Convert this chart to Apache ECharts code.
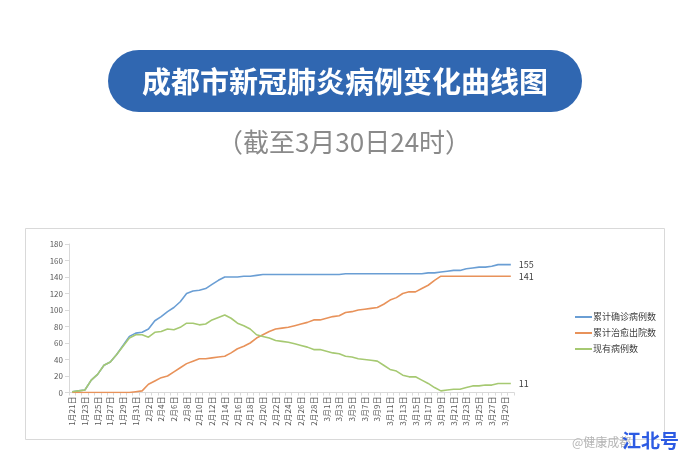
<!DOCTYPE html>
<html>
<head>
<meta charset="utf-8">
<title>成都市新冠肺炎病例变化曲线图</title>
<script src="https://cdn.jsdelivr.net/npm/echarts@6/dist/echarts.min.js"></script>
<style>
html, body { margin: 0; padding: 0; background: #fff; }
#main { width: 690px; height: 461px; }
</style>
</head>
<body>
<div id="main"></div>
<script>
// 日期（1月21日 - 3月30日）
const dates = [
	'1月21日', '1月22日', '1月23日', '1月24日', '1月25日', '1月26日', '1月27日', '1月28日', '1月29日', '1月30日', '1月31日',
	'2月1日', '2月2日', '2月3日', '2月4日', '2月5日', '2月6日', '2月7日', '2月8日', '2月9日', '2月10日',
	'2月11日', '2月12日', '2月13日', '2月14日', '2月15日', '2月16日', '2月17日', '2月18日', '2月19日', '2月20日',
	'2月21日', '2月22日', '2月23日', '2月24日', '2月25日', '2月26日', '2月27日', '2月28日', '2月29日',
	'3月1日', '3月2日', '3月3日', '3月4日', '3月5日', '3月6日', '3月7日', '3月8日', '3月9日', '3月10日',
	'3月11日', '3月12日', '3月13日', '3月14日', '3月15日', '3月16日', '3月17日', '3月18日', '3月19日', '3月20日',
	'3月21日', '3月22日', '3月23日', '3月24日', '3月25日', '3月26日', '3月27日', '3月28日', '3月29日', '3月30日',
]

// 累计确诊病例数
const confirmed = [
	1, 2, 3, 15, 22, 33, 37, 46, 57, 68, 72,
	73, 77, 87, 92, 98, 103, 110, 120, 123, 124, 126, 131, 136, 140, 140, 140, 141, 141, 142, 143, 143, 143, 143, 143, 143, 143, 143, 143, 143,
	143, 143, 143, 144, 144, 144, 144, 144, 144, 144, 144, 144, 144, 144, 144, 144, 145, 145, 146, 147, 148, 148, 150, 151, 152, 152, 153, 155, 155, 155,
]

// 累计治愈出院数
const cured = [
	0, 0, 0, 0, 0, 0, 0, 0, 0, 0, 1,
	2, 10, 14, 18, 20, 25, 30, 35, 38, 41, 41, 42, 43, 44, 48, 53, 56, 60, 66, 70, 74, 77, 78, 79, 81, 83, 85, 88, 88,
	90, 92, 93, 97, 98, 100, 101, 102, 103, 107, 112, 115, 120, 122, 122, 126, 130, 136, 141, 141, 141, 141, 141, 141, 141, 141, 141, 141, 141, 141,
]

// 现有病例数
const current = [
	1, 2, 3, 15, 22, 33, 37, 46, 56, 66, 70,
	70, 67, 73, 74, 77, 76, 79, 84, 84, 82, 83, 88, 91, 94, 90, 84, 81, 77, 70, 68, 66, 63, 62, 61, 59, 57, 55, 52, 52,
	50, 48, 47, 44, 43, 41, 40, 39, 38, 33, 28, 26, 21, 19, 19, 15, 11, 6, 2, 3, 4, 4, 6, 8, 8, 9, 9, 11, 11, 11,
]

const seriesNames = ['累计确诊病例数', '累计治愈出院数', '现有病例数']
const colors = ['#6a9ed4', '#e8925a', '#a6c972']

// 折线末端数值
const endLabel = {
	show: true,
	distance: 8,
	fontSize: 9,
	color: '#404040',
	formatter: '{c}',
}

const chart = echarts.init(document.getElementById('main'))

const option = {
	backgroundColor: '#fff',
	animation: false,
	color: colors,
	textStyle: {
		fontFamily: '"Noto Sans CJK SC", "Noto Sans", sans-serif',
	},
	graphic: [
		{
			type: 'rect',
			shape: { x: 108, y: 50, width: 474, height: 62, r: 31 },
			style: { fill: '#3067b1' },
		},
		{
			type: 'text',
			x: 345,
			y: 82,
			style: {
				text: '成都市新冠肺炎病例变化曲线图',
				fill: '#fff',
				font: 'bold 29px "Noto Sans CJK SC"',
				align: 'center',
				verticalAlign: 'middle',
				textAlign: 'center',
				textVerticalAlign: 'middle',
			},
		},
		{
			type: 'text',
			x: 344,
			y: 142,
			style: {
				text: '（截至3月30日24时）',
				fill: '#8a8a8a',
				font: '26px "Noto Sans CJK SC"',
				align: 'center',
				verticalAlign: 'middle',
				textAlign: 'center',
				textVerticalAlign: 'middle',
			},
		},
		{
			// 图表外框
			type: 'rect',
			shape: { x: 25.5, y: 228.5, width: 639, height: 211 },
			style: { fill: 'none', stroke: '#d9d9d9', lineWidth: 1 },
			z: -1,
		},
		{
			type: 'text',
			x: 572,
			y: 442,
			style: {
				text: '@健康成都',
				fill: '#b5b5b5',
				font: '12px "Noto Sans CJK SC"',
				verticalAlign: 'middle',
				textVerticalAlign: 'middle',
			},
		},
		{
			type: 'text',
			x: 622,
			y: 441,
			style: {
				text: '江北号',
				fill: '#2d5be3',
				font: 'bold 19px "Noto Sans CJK SC"',
				verticalAlign: 'middle',
				textVerticalAlign: 'middle',
			},
		},
	],
	legend: {
		orient: 'vertical',
		left: 575,
		top: 311,
		padding: 0,
		icon: 'rect',
		itemWidth: 17,
		itemHeight: 2,
		itemGap: 4,
		textStyle: {
			fontSize: 9,
			lineHeight: 12,
			color: '#404040',
			padding: [0, 0, 0, -4],
		},
		data: seriesNames,
	},
	grid: {
		left: 69,
		right: 176,
		top: 244,
		bottom: 68.5,
		containLabel: false,
	},
	xAxis: {
		type: 'category',
		boundaryGap: true,
		data: dates,
		axisLine: { lineStyle: { color: '#d9d9d9' } },
		axisTick: { show: true, interval: 0, length: 3, lineStyle: { color: '#d9d9d9' } },
		axisLabel: {
			interval: 1,
			rotate: 90,
			fontSize: 8,
			color: '#595959',
			margin: 4,
		},
	},
	yAxis: {
		type: 'value',
		min: 0,
		max: 180,
		interval: 20,
		axisLine: { show: true, lineStyle: { color: '#d9d9d9' } },
		axisTick: { show: true, length: 4, lineStyle: { color: '#d9d9d9' } },
		splitLine: { show: false },
		axisLabel: {
			fontSize: 8,
			color: '#595959',
			margin: 6,
		},
	},
	series: [
		{
			name: seriesNames[0],
			type: 'line',
			symbol: 'none',
			lineStyle: { width: 1.6 },
			endLabel: endLabel,
			data: confirmed,
		},
		{
			name: seriesNames[1],
			type: 'line',
			symbol: 'none',
			lineStyle: { width: 1.6 },
			endLabel: endLabel,
			data: cured,
		},
		{
			name: seriesNames[2],
			type: 'line',
			symbol: 'none',
			lineStyle: { width: 1.6 },
			endLabel: endLabel,
			data: current,
		},
	],
}

chart.setOption(option)
</script>
</body>
</html>
